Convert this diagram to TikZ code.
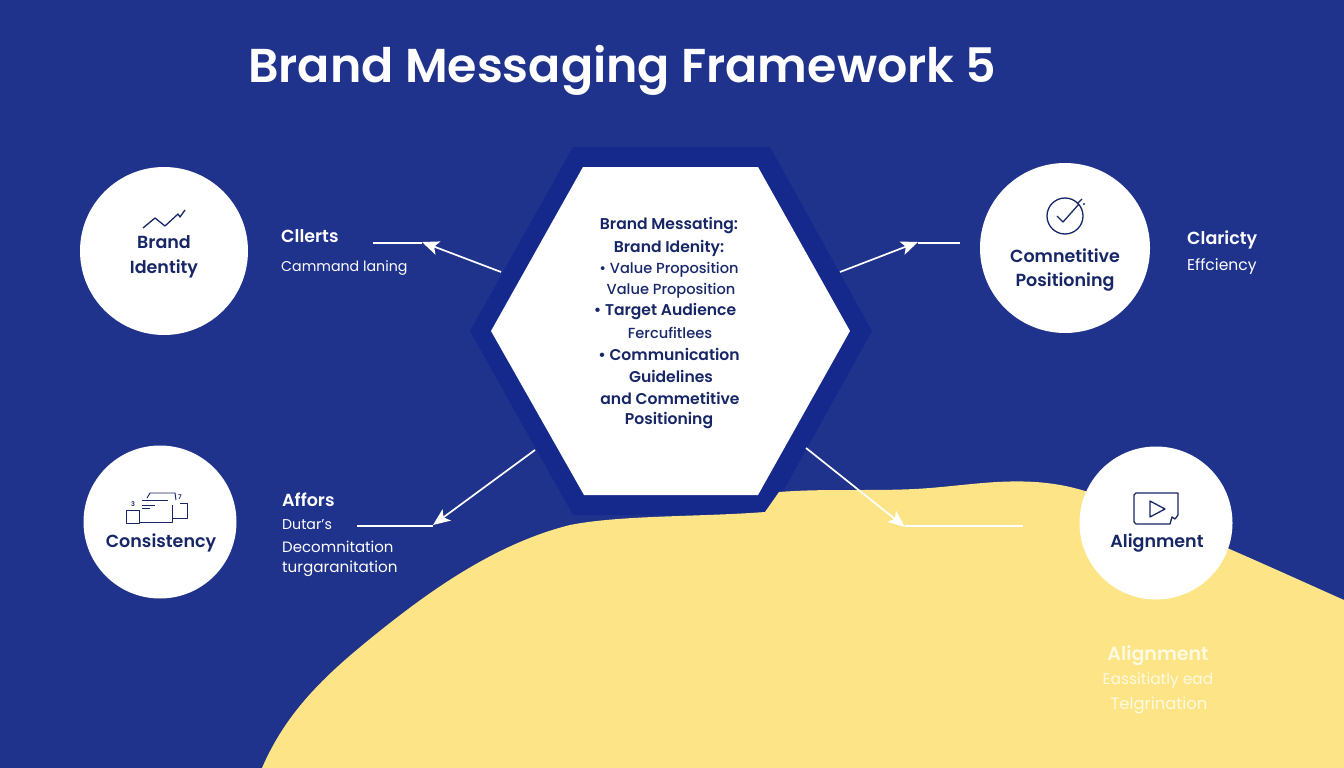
\documentclass[tikz,border=0pt]{standalone}
\usepackage{fontspec}
\setmainfont{Poppins}[UprightFont=*-Regular,BoldFont=*-SemiBold]
\newfontfamily\medfont{Poppins}[UprightFont=*-Medium]
\usetikzlibrary{arrows.meta}
\definecolor{bg}{HTML}{1F338C}
\definecolor{hexedge}{HTML}{15298C}
\definecolor{sand}{HTML}{FCE487}
\definecolor{ink}{HTML}{172766}
\definecolor{pale}{HTML}{FFFAE0}
\tikzset{
  x=1pt,y=-1pt,
  disc/.style={circle,fill=white,draw=none,inner sep=0pt},
  disclabel/.style={font=\fontsize{17.5}{24.5}\selectfont\bfseries,text=ink,align=center},
  hexline/.style={font=\medfont\fontsize{14.6}{21.5}\selectfont,text=ink!90!bg,anchor=center},
  hexhead/.style={font=\fontsize{15.6}{21.5}\selectfont\bfseries,text=ink,anchor=center},
  sidehead/.style={font=\fontsize{17.5}{20}\selectfont\bfseries,text=white,anchor=west,inner sep=0pt},
  sidetext/.style={font=\fontsize{14.2}{20}\selectfont,text=white,anchor=west,inner sep=0pt},
  link/.style={draw=white,line width=1.7pt},
  linkarrow/.style={link,-{Stealth[length=17pt,width=14pt,inset=4pt]}},
  glyph/.style={draw=ink,line width=1.3pt,line join=round,fill=none},
  thinglyph/.style={glyph,line width=0.95pt},
  iconnum/.style={font=\fontsize{6.5}{7}\selectfont\bfseries,text=ink,inner sep=0pt}
}
\begin{document}
\begin{tikzpicture}
\useasboundingbox (0,0) rectangle (1344,768);
\fill[bg] (0,0) rectangle (1344,768);
% hexagon
\fill[hexedge] (573,147) -- (770,147) -- (872,331) -- (770,515) -- (573,515) -- (470,331) -- cycle;
\fill[white] (583,167) -- (758,167) -- (850,331) -- (758,495) -- (584,495) -- (491,331) -- cycle;
% sand hill
\fill[sand] (262,768) .. controls (285,715) and (320,680) .. (365,643)
  .. controls (420,598) and (490,545) .. (570,525)
  .. controls (620,515) and (700,517) .. (765,512)
  -- (779,492)
  .. controls (830,488) and (880,492) .. (930,488)
  .. controls (980,484) and (1030,474) .. (1085,491)
  .. controls (1150,512) and (1270,567) .. (1344,600)
  -- (1344,768) -- cycle;
% title
\node[anchor=base west,inner sep=0pt,text=white,font=\fontsize{47.5}{50}\selectfont\bfseries] (title) at (248,82) {Brand Messaging Framework 5};
% circles
\node[disc,minimum size=168pt] (identity) at (164,251) {};
\node[disc,minimum size=170pt] (positioning) at (1065,248) {};
\node[disc,minimum size=153pt] (consistency) at (160,522) {};
\node[disc,minimum size=153pt] (alignment) at (1156,523) {};
\node[disclabel] (identitytext) at (164,257) {Brand\\Identity};
\node[disclabel] (positioningtext) at (1065,270) {Comnetitive\\Positioning};
\node[disclabel] (consistencytext) at (161,543) {Consistency};
\node[disclabel] (alignmenttext) at (1157,543) {Alignment};
% icons
\draw[glyph] (143,228) -- (155,218) -- (165,226) -- (178,214) -- (180,217) -- (185,210);
\draw[glyph] (1065,216) circle (18);
\draw[glyph] (1057,216) -- (1063,222) -- (1079,204);
\fill[white] (1078,198) circle (3);
\draw[glyph] (1078,203) -- (1082,199);
\fill[ink] (1084,204) circle (1.1);
\draw[thinglyph] (126,523) rectangle (139,510);
\draw[thinglyph] (140,522) -- (172,522) -- (172,505);
\draw[thinglyph] (147,498) -- (150,493) -- (175,493) -- (176,500);
\draw[thinglyph] (173,518) -- (187,518) -- (187,503) -- (180,503);
\draw[thinglyph] (142,500) -- (168,500) (142,505) -- (155,505) (142,508) -- (150,508);
\node[iconnum] (icon3) at (133,504) {3};
\node[iconnum] (icon7) at (180,497) {7};
\draw[glyph] (1136,493) -- (1178,493) -- (1178,515) -- (1175,519) -- (1172,517) -- (1170,524) -- (1136,524) -- (1134,522) -- (1134,495) -- cycle;
\draw[glyph] (1150,501) -- (1165,509) -- (1150,517) -- cycle;
% hexagon text
\node[hexhead] (h1) at (669,226) {Brand Messating:};
\node[hexhead] (h2) at (669,248) {Brand Idenity:};
\node[hexline] (h3) at (669,270) {• Value Proposition};
\node[hexline] (h4) at (671,291) {Value Proposition};
\node[hexhead] (h5) at (665,312) {• Target Audience};
\node[hexline] (h6) at (670,333) {Fercufitlees};
\node[hexhead] (h7) at (669,354) {• Communication};
\node[hexhead] (h8) at (671,376) {Guidelines};
\node[hexhead] (h9) at (670,398) {and Commetitive};
\node[hexhead] (h10) at (669,421) {Positioning};
% side text
\node[sidehead] (s1) at (281,236) {Cllerts};
\node[sidetext] (s2) at (281,268) {Cammand laning};
\node[sidehead] (s3) at (1187,240) {Claricty};
\node[sidetext,font=\fontsize{15.6}{20}\selectfont] (s4) at (1187,267) {Effciency};
\node[sidehead] (s5) at (282,500) {Affors};
\node[sidetext] (s6) at (282,525) {Dutar's};
\node[sidetext,font=\fontsize{15}{20}\selectfont] (s7) at (282,547) {Decomnitation};
\node[sidetext,font=\fontsize{15.2}{20}\selectfont] (s8) at (282,569) {turgaranitation};
\node[sidehead,anchor=center,text=pale,font=\fontsize{19}{20}\selectfont\bfseries] (s9) at (1158,656) {Alignment};
\node[sidetext,anchor=center,text=pale,font=\fontsize{15.4}{20}\selectfont] (s10) at (1158,681) {Eassitiatly ead};
\node[sidetext,anchor=center,text=pale,font=\fontsize{16.4}{20}\selectfont] (s11) at (1159,705) {Telgrination};
% connectors
\coordinate (a1) at (501,272); \coordinate (a2) at (422,242); \coordinate (a3) at (373,243);
\coordinate (b1) at (840,272); \coordinate (b2) at (918,242); \coordinate (b3) at (960,243);
\coordinate (c1) at (535,450); \coordinate (c2) at (433,525); \coordinate (c3) at (357,526);
\coordinate (d1) at (806,448); \coordinate (d2) at (905,527); \coordinate (d3) at (1023,526);
\draw[link] (a3) -- (a2 |- a3);
\draw[linkarrow] (a1) -- (a2);
\draw[link] (b3) -- (b2 |- b3);
\draw[linkarrow] (b1) -- (b2);
\draw[link] (c3) -- (c2 |- c3);
\draw[linkarrow] (c1) -- (c2);
\draw[link] (d3) -- (d2 |- d3);
\draw[linkarrow] (d1) -- (d2);
\end{tikzpicture}
\end{document}
